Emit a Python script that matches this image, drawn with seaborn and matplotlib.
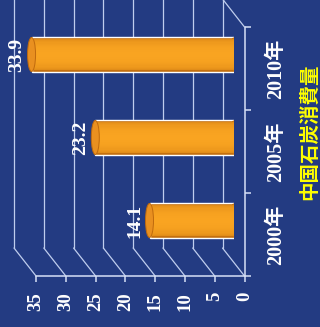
import numpy as np
import pandas as pd
import matplotlib
matplotlib.use('Agg')
import matplotlib.pyplot as plt
import matplotlib.transforms as mtrans
from matplotlib.patches import Ellipse
from matplotlib.colors import to_rgb
import seaborn as sns

# ---- data ----
categories = ['2010年', '2005年', '2000年']
values = [33.9, 23.2, 14.1]
value_ticks = [0, 5, 10, 15, 20, 25, 30, 35]
title = '中国石炭消費量'

BG = '#233B82'
GRID = '#BFCDEE'
AXC = '#D6E0F7'
EDGE = np.array(to_rgb('#C4700F'))
MID = np.array(to_rgb('#F9A421'))

sns.set_style('white')
plt.rcParams['font.family'] = ['Liberation Serif', 'Noto Sans CJK JP', 'DejaVu Sans']

fig = plt.figure(figsize=(3.2, 3.27), dpi=100, facecolor=BG)
ax = fig.add_axes([25 / 320, 65 / 327, 208.5 / 320, 249 / 327])
ax.set_facecolor('none')

H = 0.41
df = pd.DataFrame({'category': categories, 'value': values})
sns.barplot(data=df, x='value', y='category', order=categories, orient='h',
            color=tuple(EDGE), saturation=1, width=H, ax=ax, zorder=3)
ax.set_xlim(35, 0)
ax.set_ylim(2.5, -0.5)
ax.set_xlabel('')
ax.set_ylabel('')
ax.set_xticks([])
ax.set_yticks([])
for s in ax.spines.values():
    s.set_visible(False)

ypos = np.arange(len(categories))
W = 8 / (208.5 / 35)  # cap width in data units (8 px)

# smooth cylinder shading via nested layers
fracs = np.linspace(1.0, 0.08, 14)
for k, f in enumerate(fracs):
    w = np.sqrt(max(0.0, 1 - f ** 2)) ** 0.6
    c = tuple(EDGE * (1 - w) + MID * w)
    if k > 0:
        ax.barh(ypos, values, height=H * f, color=c, zorder=3 + k * 0.1, lw=0)
    for y in ypos:
        ax.add_patch(Ellipse((0, y), W, H * f, fc=c, ec='none', zorder=3 + k * 0.1))
for y, v in zip(ypos, values):
    ax.add_patch(Ellipse((v, y), W, H, fc='#E99020', ec='#BF6A0E', lw=0.7, zorder=10))

# transforms for 3D planes
back = mtrans.offset_copy(ax.transData, fig=fig, x=-11, y=14, units='dots')
front = mtrans.offset_copy(ax.transData, fig=fig, x=11, y=-14, units='dots')

# back wall gridlines and side-wall diagonals
for v in value_ticks:
    ax.plot([v, v], [-0.5, 2.5], transform=back, color=GRID, lw=0.9, clip_on=False, zorder=1)
    ax.annotate('', xy=(v, 2.5), xycoords=front, xytext=(v, 2.5), textcoords=back,
                arrowprops=dict(arrowstyle='-', color=GRID, lw=0.9, shrinkA=0, shrinkB=0),
                zorder=1, annotation_clip=False)
# floor top edge
ax.annotate('', xy=(0, -0.5), xycoords=front, xytext=(0, -0.5), textcoords=back,
            arrowprops=dict(arrowstyle='-', color=GRID, lw=0.9, shrinkA=0, shrinkB=0),
            zorder=1, annotation_clip=False)

# front axes
ax.plot([0, 0], [-0.5, 2.5], transform=front, color=AXC, lw=1.1, clip_on=False, zorder=2)
ax.plot([0, 35], [2.5, 2.5], transform=front, color=AXC, lw=1.1, clip_on=False, zorder=2)
ax.plot(value_ticks, [2.5] * len(value_ticks), transform=front, ls='none', marker=3,
        markersize=4, mew=1.1, color=AXC, clip_on=False, zorder=2)
ax.plot([0] * 4, [-0.5, 0.5, 1.5, 2.5], transform=front, ls='none', marker=1,
        markersize=4, mew=1.1, color=AXC, clip_on=False, zorder=2)

# value tick labels
tl = mtrans.offset_copy(ax.transData, fig=fig, x=11, y=-14 - 16, units='dots')
for v in value_ticks:
    ax.text(v, 2.5, str(v), transform=tl, rotation=90, ha='center', va='top',
            fontsize=13.5, fontweight='bold', color='white')

# category labels
cl = mtrans.offset_copy(ax.transData, fig=fig, x=11 + 22, y=-14, units='dots')
for y, c in zip(ypos, categories):
    ax.text(0, y, c, transform=cl, rotation=90, ha='left', va='center',
            fontsize=14.5, fontweight='bold', color='white')

# data labels
dl = mtrans.offset_copy(ax.transData, fig=fig, x=-6.5, y=0, units='dots')
for y, v in zip(ypos, values):
    ax.text(v, y, f'{v}', transform=dl, rotation=90, ha='right', va='center',
            fontsize=14, fontweight='bold', color='white', zorder=11)

# title
fig.text(310 / 320, 1 - 132 / 327, title, rotation=90, ha='center', va='center',
         fontsize=14, fontweight='bold', color='#FFFF00',
         family=['Noto Sans CJK JP', 'DejaVu Sans'])

fig.savefig('out.png', dpi=100, facecolor=BG)
